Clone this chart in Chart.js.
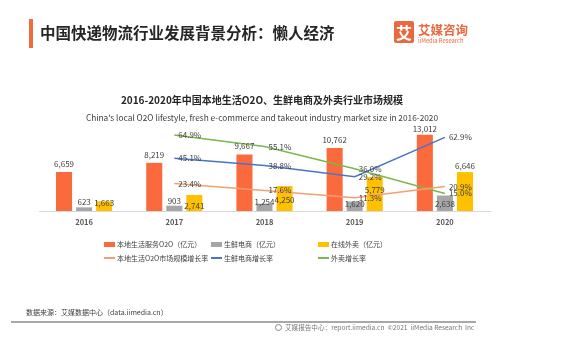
<!DOCTYPE html>
<html><head><meta charset="utf-8">
<script src="https://cdn.jsdelivr.net/npm/chart.js@4.4.1/dist/chart.umd.min.js"></script>
<style>
body{margin:0;width:563px;height:350px;background:#fff;position:relative;overflow:hidden;font-family:"Noto Sans CJK SC",sans-serif;}
.abs{position:absolute;white-space:nowrap;line-height:1;}
.vc{transform:translateY(-50%);}
#c{position:absolute;left:0;top:0;}
.sw{position:absolute;}
</style></head><body>
<canvas id="c" width="563" height="350"></canvas>
<div class="abs" style="left:29px;top:19px;width:4px;height:29px;background:#F26B3A"></div>
<div class="abs vc" style="left:40px;top:33px;font-size:15.5px;font-weight:bold;color:#262626">中国快递物流行业发展背景分析：懒人经济</div>
<div class="abs" style="left:394px;top:21px;width:20px;height:22px;background:#E9683E;border-radius:2px;color:#fff;font-size:16px;font-weight:bold;text-align:center;line-height:22px">艾</div>
<div class="abs vc" style="left:418px;top:29.5px;font-size:12.5px;font-weight:bold;color:#E9683E">艾媒咨询</div>
<div class="abs vc" style="left:418px;top:40.5px;font-size:5.8px;color:#E9683E">iiMedia Research</div>

<div class="abs vc" style="left:0;width:524px;text-align:center;top:100px;font-size:10px;font-weight:bold;color:#262626">2016-2020年中国本地生活O2O、生鲜电商及外卖行业市场规模</div>
<div class="abs vc" style="left:0;width:524px;text-align:center;top:117px;font-size:8.3px;color:#404040">China's local O2O lifestyle, fresh e-commerce and takeout industry market size in 2016-2020</div>

<div id="legend"></div>

<div class="abs vc" style="left:26px;top:312px;font-size:7px;color:#404040">数据来源：艾媒数据中心（data.iimedia.cn）</div>
<div class="abs" style="left:11px;top:321px;width:465px;height:1.5px;background:#A8A8A8"></div>
<div class="abs" style="left:275px;top:324px;width:5px;height:5px;border:1px solid #888;border-radius:50%"></div>
<div class="abs vc" style="left:285px;top:327px;font-size:6.6px;color:#777">艾媒报告中心：report.iimedia.cn &nbsp;©2021 &nbsp;iiMedia Research &nbsp;Inc</div>

<script>
const years = ['2016', '2017', '2018', '2019', '2020'];
const localO2O = [6659, 8219, 9667, 10762, 13012];
const freshEcom = [623, 903, 1254, 1620, 2638];
const takeout = [1663, 2741, 4250, 5779, 6646];
const localGrowth = [null, 23.4, 17.6, 11.3, 20.9];
const freshGrowth = [null, 45.1, 38.8, 29.2, 62.9];
const takeoutGrowth = [null, 64.9, 55.1, 36.0, 15.0];

const seriesNames = ['本地生活服务O2O（亿元）', '生鲜电商（亿元）', '在线外卖（亿元）',
  '本地生活O2O市场规模增长率', '生鲜电商增长率', '外卖增长率'];

const C_ORANGE = '#FA6A3C', C_GRAY = '#A6A6A6', C_YELLOW = '#FFC000';
const L_ORANGE = '#F4A06E', L_BLUE = '#4A74C9', L_GREEN = '#7AB84C';

const valueLabels = {
  id: 'valueLabels',
  afterDatasetsDraw(chart) {
    const ctx = chart.ctx;
    chart.data.datasets.forEach((ds, di) => {
      const meta = chart.getDatasetMeta(di);
      if (meta.hidden) return;
      meta.data.forEach((el, i) => {
        const v = ds.data[i];
        if (v == null) return;
        ctx.save();
        ctx.fillStyle = '#404040';
        ctx.font = '8px "Noto Sans CJK SC"';
        ctx.textBaseline = 'middle';
        if (ds.type === 'bar') {
          ctx.textAlign = 'center';
          const shift = ds.labelShift ? ds.labelShift[i] : -8;
          ctx.fillText(v.toLocaleString('en-US'), el.x, el.y + shift);
        } else {
          ctx.textAlign = 'left';
          ctx.fillText(v.toFixed(1) + '%', el.x + 4, el.y);
        }
        ctx.restore();
      });
    });
  }
};

const barCommon = { type: 'bar', yAxisID: 'y', categoryPercentage: 0.667, barPercentage: 0.8, order: 2 };
const lineCommon = { type: 'line', yAxisID: 'y1', pointRadius: 0, borderWidth: 1.5, tension: 0, fill: false, order: 1 };

const chart = new Chart(document.getElementById('c'), {
  data: {
    labels: years,
    datasets: [
      Object.assign({ label: seriesNames[0], data: localO2O, backgroundColor: C_ORANGE, labelShift: [-8, -8, -8, -8, -6] }, barCommon),
      Object.assign({ label: seriesNames[1], data: freshEcom, backgroundColor: C_GRAY, labelShift: [-5, -5, -2, 2, 8] }, barCommon),
      Object.assign({ label: seriesNames[2], data: takeout, backgroundColor: C_YELLOW, labelShift: [2, 11, 14, 13, -6] }, barCommon),
      Object.assign({ label: seriesNames[3], data: localGrowth, borderColor: L_ORANGE, backgroundColor: L_ORANGE }, lineCommon),
      Object.assign({ label: seriesNames[4], data: freshGrowth, borderColor: L_BLUE, backgroundColor: L_BLUE }, lineCommon),
      Object.assign({ label: seriesNames[5], data: takeoutGrowth, borderColor: L_GREEN, backgroundColor: L_GREEN }, lineCommon)
    ]
  },
  options: {
    responsive: false,
    animation: false,
    devicePixelRatio: 1,
    layout: { padding: { left: 39, right: 73, top: 129, bottom: 116 } },
    plugins: { legend: { display: false }, tooltip: { enabled: false }, title: { display: false } },
    scales: {
      x: {
        offset: true,
        grid: { display: false, drawTicks: false },
        border: { display: true, color: '#D9D9D9', width: 1 },
        ticks: { color: '#595959', padding: 7, font: { family: '"Noto Sans CJK SC"', size: 7.5, weight: 'bold' } }
      },
      y: { display: false, min: 0, max: 14000 },
      y1: { display: false, min: 0, max: 70 }
    }
  },
  plugins: [valueLabels]
});

// legend built from the chart's datasets
const legendPos = [[104, 244], [211, 244], [318, 244], [104, 258], [211, 258], [318, 258]];
const lg = document.getElementById('legend');
chart.data.datasets.forEach((ds, i) => {
  const [x, y] = legendPos[i];
  const sw = document.createElement('div');
  sw.className = 'sw';
  if (ds.type === 'bar') {
    sw.style.cssText = `left:${x}px;top:${y - 2.5}px;width:11px;height:5px;background:${ds.backgroundColor}`;
  } else {
    sw.style.cssText = `left:${x}px;top:${y - 0.75}px;width:11px;height:1.5px;background:${ds.borderColor}`;
  }
  lg.appendChild(sw);
  const t = document.createElement('div');
  t.className = 'abs vc';
  t.style.cssText = `left:${x + 13}px;top:${y}px;font-size:7px;color:#404040`;
  t.textContent = ds.label;
  lg.appendChild(t);
});
</script>
</body></html>
